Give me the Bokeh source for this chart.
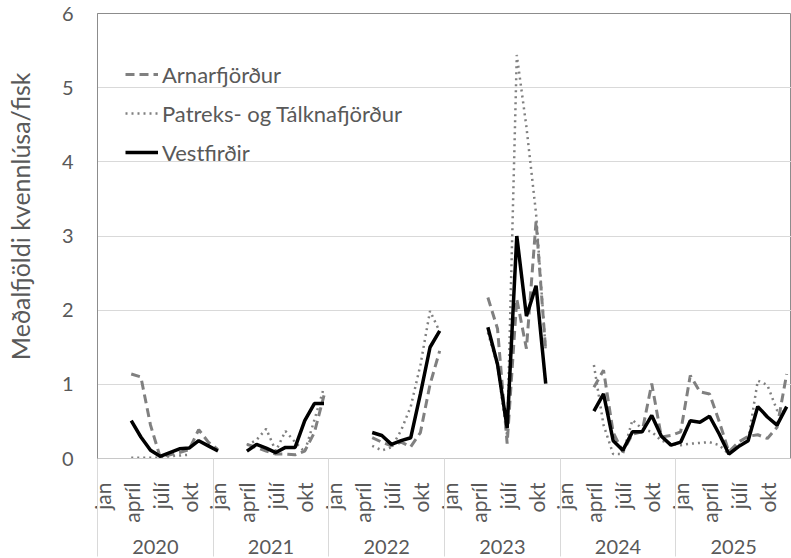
import math
from bokeh.plotting import figure
from bokeh.models import Range1d, FixedTicker, LinearAxis, Legend, LegendItem, Title
from bokeh.embed import file_html
from bokeh.resources import INLINE

# ---------------- data ----------------
years = ["2020", "2021", "2022", "2023", "2024", "2025"]
months = ["jan", "feb", "mars", "apríl", "maí", "júní", "júlí", "ágúst", "sept", "okt", "nóv", "des"]
shown_months = ["jan", "apríl", "júlí", "okt"]

NA = float("nan")

# Arnarfjörður (one row per year, Jan..Dec)
arnarfjordur = (
    [NA, NA, NA, 1.14, 1.10, 0.45, 0.02, 0.05, 0.08, 0.12, 0.39, 0.22]
    + [0.12, NA, NA, 0.19, 0.15, 0.10, 0.06, 0.06, 0.05, 0.10, 0.35, 0.85]
    + [NA, NA, NA, NA, 0.28, 0.22, 0.17, 0.22, 0.16, 0.35, 1.00, 1.45]
    + [NA, NA, NA, NA, 2.17, 1.75, 0.20, 2.15, 1.48, 3.20, 1.45, NA]
    + [NA, NA, NA, 0.96, 1.19, 0.35, 0.09, 0.33, 0.36, 1.01, 0.29, 0.31]
    + [0.36, 1.12, 0.90, 0.87, 0.50, 0.09, 0.22, 0.30, 0.32, 0.27, 0.42, 1.14]
)

# Patreks- og Tálknafjörður
patreks = (
    [NA, NA, NA, 0.01, 0.01, 0.01, 0.01, 0.03, 0.04, 0.05, NA, NA]
    + [NA, NA, NA, 0.18, 0.25, 0.40, 0.10, 0.37, 0.22, 0.09, 0.52, 0.96]
    + [NA, NA, NA, NA, 0.17, 0.11, 0.15, 0.38, 0.70, 1.26, 1.99, 1.71]
    + [NA, NA, NA, NA, 1.70, 1.25, 0.30, 5.44, 4.47, 3.30, 1.45, NA]
    + [NA, NA, NA, 1.26, 0.45, 0.06, 0.06, 0.52, 0.40, 0.36, 0.24, 0.20]
    + [0.18, 0.20, 0.21, 0.22, 0.18, 0.06, 0.18, 0.24, 1.05, 0.99, 0.65, 0.62]
)

# Vestfirðir
vestfirdir = (
    [NA, NA, NA, 0.51, 0.29, 0.11, 0.03, 0.08, 0.13, 0.14, 0.24, 0.17]
    + [0.10, NA, NA, 0.10, 0.19, 0.14, 0.08, 0.15, 0.15, 0.51, 0.74, 0.74]
    + [NA, NA, NA, NA, 0.35, 0.31, 0.19, 0.24, 0.28, 0.87, 1.50, 1.72]
    + [NA, NA, NA, NA, 1.77, 1.27, 0.41, 3.00, 1.92, 2.33, 1.01, NA]
    + [NA, NA, NA, 0.64, 0.87, 0.24, 0.11, 0.36, 0.36, 0.58, 0.30, 0.18]
    + [0.22, 0.51, 0.49, 0.57, 0.33, 0.06, 0.16, 0.24, 0.70, 0.56, 0.45, 0.70]
)

y_ticks = [0, 1, 2, 3, 4, 5, 6]
y_label = "Meðalfjöldi kvennlúsa/fisk"
series_names = ["Arnarfjörður", "Patreks- og Tálknafjörður", "Vestfirðir"]

# ---------------- layout ----------------
n = len(years) * len(months)
x = list(range(n))

FONT = "Lato"
TXT = "#595959"
SEP = "#d9d9d9"

p = figure(
    width=791, height=558,
    x_range=Range1d(-0.5, n - 0.5), y_range=Range1d(0, 6),
    output_backend="svg", toolbar_location=None,
    min_border_left=97, min_border_right=0, min_border_top=13, min_border_bottom=100,
)
p.background_fill_color = "white"
p.border_fill_color = "white"
p.outline_line_color = "#8c8c8c"
p.outline_line_width = 1

# y axis
p.yaxis.ticker = FixedTicker(ticks=y_ticks)
p.yaxis.major_tick_out = 0
p.yaxis.major_tick_in = 0
p.yaxis.minor_tick_out = 0
p.yaxis.minor_tick_in = 0
p.yaxis.axis_line_color = "#8c8c8c"
p.yaxis.major_label_text_font = FONT
p.yaxis.major_label_text_font_size = "20px"
p.yaxis.major_label_text_color = TXT
p.yaxis.major_label_standoff = 24

# invisible spacer axis between the tick labels and the y title
spacer = LinearAxis(ticker=FixedTicker(ticks=[0]))
spacer.axis_line_color = None
spacer.major_tick_out = 24
spacer.major_tick_in = 0
spacer.major_tick_line_color = None
spacer.minor_tick_out = 0
spacer.minor_tick_in = 0
spacer.major_label_standoff = 0
spacer.major_label_text_font_size = "1px"
spacer.major_label_text_alpha = 0
p.add_layout(spacer, "left")

# y title, aligned towards the top like the reference
ytitle = Title(
    text=y_label, align="right", offset=59,
    text_font=FONT, text_font_size="25px", text_font_style="normal",
    text_color=TXT, standoff=0,
)
p.add_layout(ytitle, "left")

p.ygrid.ticker = FixedTicker(ticks=y_ticks)
p.ygrid.grid_line_color = "#d9d9d9"
p.ygrid.grid_line_width = 1
p.xgrid.grid_line_color = None

# month axis (below)
month_ticks = []
month_labels = {}
for yi, _ in enumerate(years):
    for m in shown_months:
        t = yi * len(months) + months.index(m)
        month_ticks.append(t)
        month_labels[t] = m
boundaries = [yi * len(months) - 0.5 for yi in range(len(years) + 1)]

xa = p.xaxis[0]
xa.ticker = FixedTicker(ticks=month_ticks)
xa.major_label_overrides = month_labels
xa.major_label_orientation = math.pi / 2
xa.major_label_text_font = FONT
xa.major_label_text_font_size = "21px"
xa.major_label_text_color = TXT
xa.major_label_standoff = 24
xa.major_tick_out = 0
xa.major_tick_in = 0
xa.minor_tick_in = 0
xa.minor_tick_out = 0
xa.axis_line_color = "#c8c8c8"

# year axis (below month axis)
year_centers = [yi * len(months) + (len(months) - 1) / 2 for yi in range(len(years))]
ya = LinearAxis(ticker=FixedTicker(ticks=year_centers))
ya.major_label_overrides = {c: yr for c, yr in zip(year_centers, years)}
ya.major_label_text_font = FONT
ya.major_label_text_font_size = "20px"
ya.major_label_text_color = TXT
ya.major_label_standoff = 14
ya.major_tick_out = 0
ya.major_tick_in = 0
ya.minor_tick_out = 0
ya.minor_tick_in = 0
ya.axis_line_color = None
p.add_layout(ya, "below")

# separator axis (bottom-most): year boundaries drawn as upward ticks
sa = LinearAxis(ticker=FixedTicker(ticks=[], minor_ticks=boundaries))
sa.major_tick_out = 0
sa.major_tick_in = 0
sa.minor_tick_out = 0
sa.minor_tick_in = 98
sa.minor_tick_line_color = SEP
sa.major_label_text_font_size = "0px"
sa.major_label_standoff = 0
sa.axis_line_color = None
p.add_layout(sa, "below")

# ---------------- lines ----------------
r_a = p.line(x, arnarfjordur, line_color="#808080", line_width=3, line_dash="9 5")
r_p = p.line(x, patreks, line_color="#808080", line_width=2.5, line_dash="2 4")
r_v = p.line(x, vestfirdir, line_color="black", line_width=3.5)

legend = Legend(
    items=[LegendItem(label=series_names[0], renderers=[r_a]),
           LegendItem(label=series_names[1], renderers=[r_p]),
           LegendItem(label=series_names[2], renderers=[r_v])],
    location=(28, 291),
    border_line_color=None, background_fill_alpha=0,
    label_text_font=FONT, label_text_font_size="22px", label_text_color=TXT,
    glyph_width=33, glyph_height=30, label_height=30, spacing=9, padding=0,
    label_standoff=4,
)
p.add_layout(legend)

open("out.html", "w").write(file_html(p, INLINE))
